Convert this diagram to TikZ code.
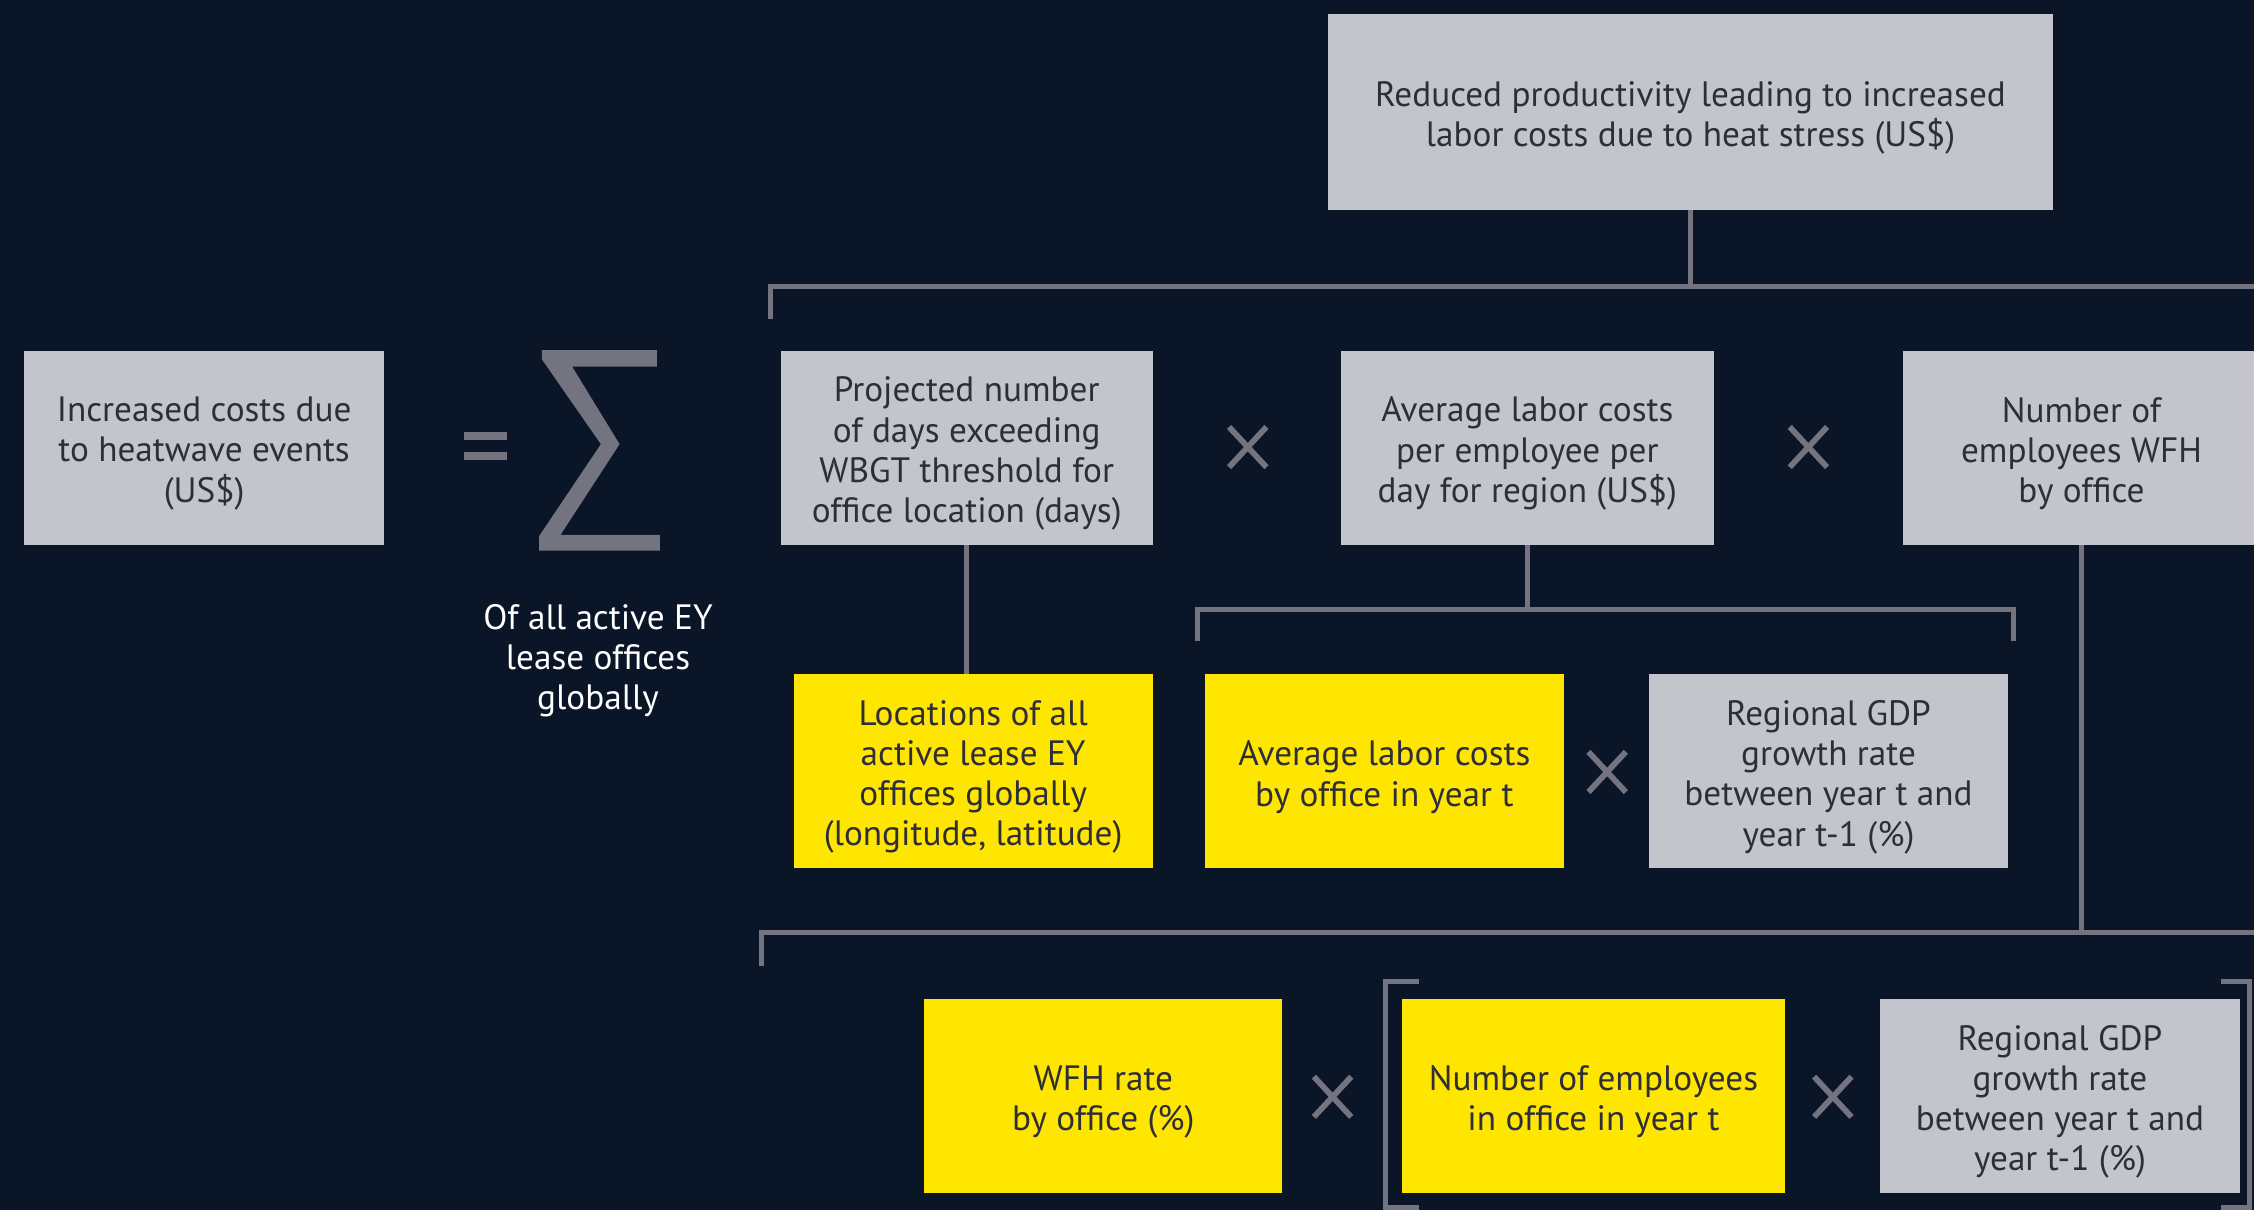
\documentclass[tikz,border=0pt]{standalone}
\usepackage{fontspec}
\setmainfont{PT Sans}
\definecolor{bg}{RGB}{10,21,39}
\definecolor{boxgray}{RGB}{196,196,205}
\definecolor{eyyellow}{RGB}{255,230,0}
\definecolor{linegray}{RGB}{116,116,128}
\definecolor{txtdark}{RGB}{46,46,56}
\newcommand\mybox[6]{%
  \node[#1, minimum width=#5pt, minimum height=135pt] (#2) at (#3,#4) {};
  \node[boxtxt] (#2-t) at ([yshift=-4pt]#2.center) {#6};
}
\begin{document}
\begin{tikzpicture}[x=1pt,y=-1pt,
  box/.style={rectangle, inner sep=0pt},
  boxtxt/.style={inner sep=0pt, align=center, text=txtdark, font=\fontsize{24.5}{28}\selectfont},
  gbox/.style={box, fill=boxgray},
  ybox/.style={box, fill=eyyellow},
  conn/.style={draw=linegray, line width=3.5pt},
  mult/.style={draw=linegray, line width=4pt},
  note/.style={align=center, text=white, font=\fontsize{24.5}{28}\selectfont, inner sep=0pt}
]
\clip (0,0) rectangle (1568,842);
\fill[bg] (0,0) rectangle (1568,842);

% boxes
\node[gbox, minimum width=504pt, minimum height=136pt] (top) at (1176,78) {};
\node[boxtxt] (top-t) at ([yshift=-4pt]top.center) {Reduced productivity leading to increased\\labor costs due to heat stress (US\$)};
\mybox{gbox}{inc}{142}{311.5}{250}{Increased costs due\\to heatwave events\\(US\$)}
\mybox{gbox}{proj}{672.5}{311.5}{259}{Projected number\\of days exceeding\\WBGT threshold for\\office location (days)}
\mybox{gbox}{avg}{1062.5}{311.5}{259}{Average labor costs\\per employee per\\day for region (US\$)}
\mybox{gbox}{num}{1448}{311.5}{248}{Number of\\employees WFH\\by office}
\mybox{ybox}{loc}{677}{536.5}{250}{Locations of all\\active lease EY\\offices globally\\(longitude, latitude)}
\mybox{ybox}{avgt}{963}{536.5}{250}{Average labor costs\\by office in year t}
\mybox{gbox}{gdpa}{1272}{536.5}{250}{Regional GDP\\growth rate\\between year t and\\year t-1 (\%)}
\mybox{ybox}{wfh}{767.5}{762.5}{249}{WFH rate\\by office (\%)}
\mybox{ybox}{emp}{1108.5}{762.5}{267}{Number of employees\\in office in year t}
\mybox{gbox}{gdpb}{1433}{762.5}{250}{Regional GDP\\growth rate\\between year t and\\year t-1 (\%)}

\node[note] (all) at (416,459.5) {Of all active EY\\lease offices\\globally};

% equals and sigma
\fill[linegray] (323,300.7) rectangle (353,306.1);
\fill[linegray] (323,314.7) rectangle (353,319.9);
\fill[linegray] (377,243.5) -- (457,243.5) -- (457,255) -- (398,255) -- (431,309) -- (390,372) -- (459,372) -- (459,383) -- (375,383) -- (375,373) -- (418,309) -- (377,250) -- cycle;

% connectors
\coordinate (b1l) at (536,222);
\coordinate (b1r) at (1580,199);
\draw[conn] (top.south) -- (top.south |- b1r);
\draw[conn] (b1l) -- (b1l |- b1r) -- (b1r);

\draw[conn] (proj.south) -- (proj.south |- loc.north);

\coordinate (b2l) at (833,446);
\coordinate (b2r) at (1401,446);
\coordinate (b2y) at (1063,424);
\draw[conn] (avg.south) -- (avg.south |- b2y);
\draw[conn] (b2l) -- (b2l |- b2y) -- (b2r |- b2y) -- (b2r);

\coordinate (b3l) at (530,672);
\coordinate (b3r) at (1580,649);
\draw[conn] (num.south) -- (num.south |- b3r);
\draw[conn] (b3l) -- (b3l |- b3r) -- (b3r);

% square brackets
\coordinate (sq1a) at (987,683);
\coordinate (sq1b) at (987,840);
\coordinate (sq2a) at (1545,683);
\coordinate (sq2b) at (1545,840);
\draw[conn] (sq1a) -- ++(-23,0) -- ++(0,157) -- (sq1b);
\draw[conn] (sq2a) -- ++(20,0) -- ++(0,157) -- (sq2b);

% multiplication signs
\coordinate (m1) at (868,311);
\coordinate (m2) at (1258,311);
\coordinate (m3) at (1118,537);
\coordinate (m4) at (927,763);
\coordinate (m5) at (1275,763);
\foreach \m in {m1,m2,m3,m4,m5}{
  \draw[mult] (\m) +(-13,-14) -- +(13,14);
  \draw[mult] (\m) +(-13,14) -- +(13,-14);
}
\end{tikzpicture}
\end{document}
